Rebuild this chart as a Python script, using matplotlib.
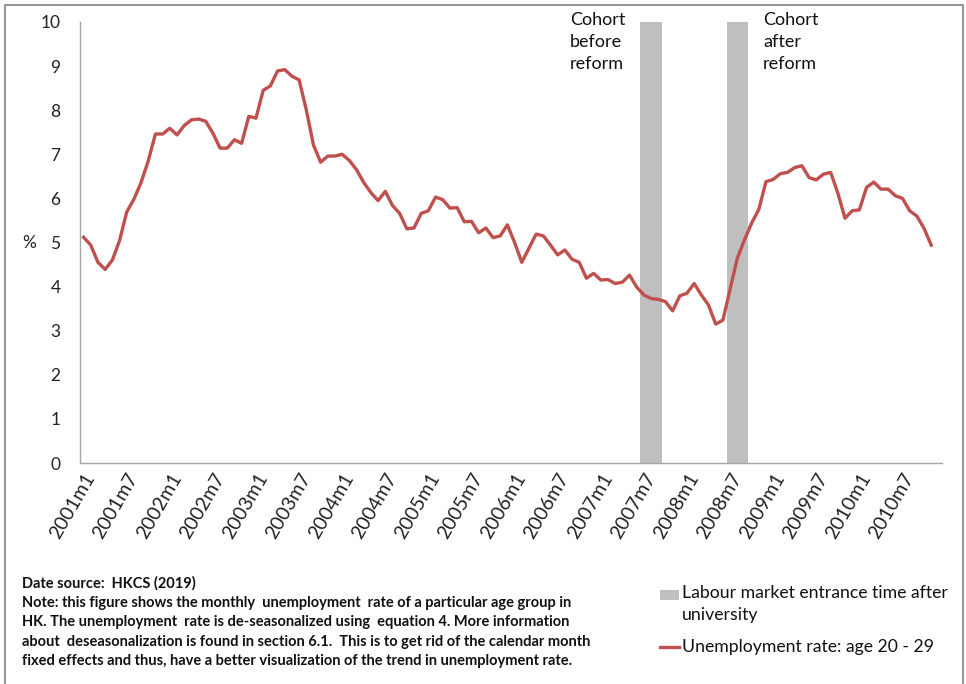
import matplotlib
matplotlib.use("Agg")
import matplotlib.pyplot as plt
from matplotlib.patches import Rectangle
from matplotlib.lines import Line2D

plt.rcParams['font.family'] = ['Lato', 'DejaVu Sans']

# monthly de-seasonalized unemployment rate, age 20-29, 2001m1 .. 2010m11
rate = [5.12, 4.94, 4.55, 4.39, 4.60, 5.04, 5.69, 5.98, 6.36, 6.85,
        7.46, 7.46, 7.59, 7.44, 7.65, 7.78, 7.80, 7.75, 7.48, 7.14,
        7.14, 7.33, 7.25, 7.86, 7.82, 8.45, 8.55, 8.89, 8.92, 8.77,
        8.69, 8.01, 7.21, 6.82, 6.96, 6.96, 7.00, 6.86, 6.65, 6.36,
        6.13, 5.95, 6.16, 5.84, 5.66, 5.31, 5.33, 5.66, 5.72, 6.03,
        5.97, 5.78, 5.79, 5.47, 5.48, 5.22, 5.33, 5.11, 5.15, 5.40,
        5.00, 4.55, 4.87, 5.19, 5.15, 4.94, 4.72, 4.83, 4.62, 4.55,
        4.19, 4.30, 4.15, 4.16, 4.07, 4.10, 4.26, 3.99, 3.81, 3.73,
        3.71, 3.66, 3.45, 3.79, 3.85, 4.07, 3.81, 3.58, 3.15, 3.24,
        3.94, 4.64, 5.06, 5.44, 5.75, 6.38, 6.43, 6.56, 6.59, 6.70,
        6.74, 6.47, 6.42, 6.55, 6.59, 6.12, 5.55, 5.72, 5.74, 6.25,
        6.37, 6.21, 6.21, 6.06, 6.00, 5.72, 5.60, 5.32, 4.94]

# labour market entrance windows (shaded bars)
entrance_months = ["2007m7", "2007m8", "2007m9", "2008m7", "2008m8", "2008m9"]
entrance_height = [10, 10, 10, 10, 10, 10]

months = [f"{y}m{m}" for y in range(2001, 2011) for m in range(1, 13)]
tick_labels = [mo for mo in months if mo.endswith("m1") or mo.endswith("m7")]

note = ("Date source:  HKCS (2019)\n"
        "Note: this figure shows the monthly  unemployment  rate of a particular age group in\n"
        "HK. The unemployment  rate is de-seasonalized using  equation 4. More information\n"
        "about  deseasonalization is found in section 6.1.  This is to get rid of the calendar month\n"
        "fixed effects and thus, have a better visualization of the trend in unemployment rate.")

RED = "#C0504D"
GREY = "#BFBFBF"

W, H = 966, 684
fig = plt.figure(figsize=(W / 100, H / 100), dpi=100)
ax = fig.add_axes([80 / W, 1 - 463 / H, (942 - 80) / W, (463 - 22) / H])

bar_x = [months.index(m) for m in entrance_months]
ax.bar(bar_x, entrance_height, width=1.0, color=GREY, zorder=1)
ax.plot(range(len(rate)), rate, color=RED, lw=2.4, zorder=2)

ax.set_xlim(-0.5, 119.5)
ax.set_ylim(0, 10)
ax.set_yticks(range(0, 11))
ax.set_xticks([months.index(t) for t in tick_labels])
ax.set_xticklabels(tick_labels, rotation=60, ha="right", va="top",
                   rotation_mode="anchor", fontsize=14, color="#222222")
ax.tick_params(axis="y", length=0, pad=14, labelsize=12.5, labelcolor="#222222")
ax.tick_params(axis="x", length=0, pad=5)
for s in ["top", "right"]:
    ax.spines[s].set_visible(False)
for s in ["left", "bottom"]:
    ax.spines[s].set_color("#A6A6A6")
    ax.spines[s].set_linewidth(1.0)

fig.text(29 / W, 1 - 243 / H, "%", fontsize=12.5, ha="center", va="center", color="#222222")

fig.text(570 / W, 1 - 12 / H, "Cohort\nbefore\nreform", fontsize=13,
         ha="left", va="top", linespacing=1.45, color="#111111")
fig.text(763 / W, 1 - 12 / H, "Cohort\nafter\nreform", fontsize=13,
         ha="left", va="top", linespacing=1.45, color="#111111")

fig.text(22 / W, 1 - 576 / H, note, fontsize=10.5, fontweight="bold",
         ha="left", va="top", linespacing=1.5, color="#111111")

# legend drawn by hand so the grey key sits on the first text line
fig.patches.append(Rectangle((660 / W, 1 - 600 / H), 19 / W, 10 / H,
                             transform=fig.transFigure, facecolor=GREY, edgecolor="none"))
fig.lines.append(Line2D([660 / W, 679 / W], [1 - 647 / H, 1 - 647 / H],
                        transform=fig.transFigure, color=RED, lw=2.4))
fig.text(682 / W, 1 - 595 / H, "Labour market entrance time after\nuniversity",
         fontsize=12.7, ha="left", va="baseline", color="#111111", linespacing=1.45)
leg_txt = fig.texts[-1]
leg_txt.set_va("top")
leg_txt.set_y(1 - 585 / H)
fig.text(682 / W, 1 - 647 / H, "Unemployment rate: age 20 - 29",
         fontsize=12.7, ha="left", va="center", color="#111111")

fig.patches.append(Rectangle((5 / W, -0.05), (963 - 5) / W, 1.05 - 4.5 / H,
                             transform=fig.transFigure, fill=False,
                             edgecolor="#808080", lw=1.2))

fig.savefig("out.png", dpi=100)
